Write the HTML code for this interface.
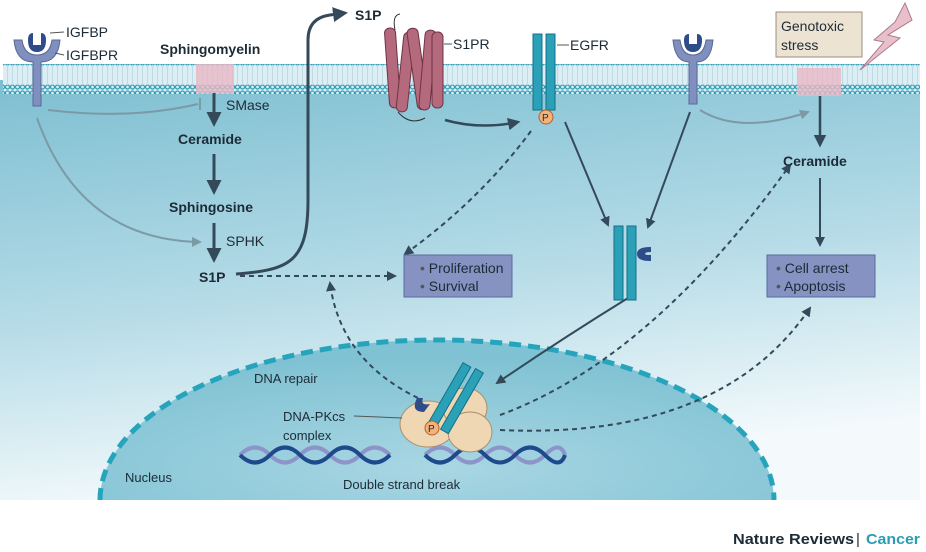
<!DOCTYPE html>
<html><head><style>body{margin:0;background:#fff}svg{display:block}text{font-family:"Liberation Sans",sans-serif;fill:#1d2b36}</style></head><body>
<svg width="926" height="552" viewBox="0 0 926 552" xmlns="http://www.w3.org/2000/svg">
<defs>
<linearGradient id="bg" x1="0" y1="0" x2="0.25" y2="1"><stop offset="0" stop-color="#7dbfd1"/><stop offset="0.55" stop-color="#b5dbe7"/><stop offset="1" stop-color="#f4fafc"/></linearGradient>
<radialGradient id="nuc" cx="0.5" cy="0.8" r="0.7"><stop offset="0" stop-color="#a9d6e3"/><stop offset="1" stop-color="#7fc2d3"/></radialGradient>
<pattern id="lip" width="5" height="30" patternUnits="userSpaceOnUse"><circle cx="2.5" cy="3" r="2" fill="none" stroke="#2f9fb6" stroke-width="1.2"/><circle cx="2.5" cy="27" r="2" fill="none" stroke="#2f9fb6" stroke-width="1.2"/><line x1="2.5" y1="5" x2="2.5" y2="25" stroke="#bcdbe5" stroke-width="1"/></pattern>
<marker id="ah" viewBox="0 0 10 10" refX="8" refY="5" markerWidth="5" markerHeight="5" orient="auto"><path d="M0,0L10,5L0,10z" fill="#34495a"/></marker>
<marker id="ahg" viewBox="0 0 10 10" refX="8" refY="5" markerWidth="5" markerHeight="5" orient="auto"><path d="M0,0L10,5L0,10z" fill="#7c9aa6"/></marker>
</defs>
<rect x="0" y="80" width="920" height="420" fill="url(#bg)"/>
<rect x="3" y="64" width="917" height="30" fill="#dcedf3"/>
<rect x="3" y="64" width="917" height="30" fill="url(#lip)"/>
<rect x="196" y="64" width="38" height="30" fill="#e9b8c4" opacity="0.8"/>
<rect x="797" y="68" width="44" height="28" fill="#e9b8c4" opacity="0.8"/>
<path d="M100,500 A337,160 0 0 1 774,500 Z" fill="url(#nuc)"/>
<path d="M100,500 A337,160 0 0 1 774,500" fill="none" stroke="#26a4bc" stroke-width="5" stroke-dasharray="12,7"/>
<path d="M14,40 L22,40 Q24,55 37,55 Q50,55 52,40 L60,40 Q58,62 41,62 L41,106 L33,106 L33,62 Q16,62 14,40z" fill="#8090be" stroke="#5a6898"/>
<path d="M28,40 Q28,33 33,33 L33,45 L41,45 L41,33 Q46,33 46,40 Q46,52 37,52 Q28,52 28,40z" fill="#2f4c8a"/>
<text x="66" y="37" font-size="14">IGFBP</text><text x="66" y="60" font-size="14">IGFBPR</text>
<line x1="50" y1="33" x2="64" y2="32" stroke="#555"/><line x1="55" y1="53" x2="64" y2="55" stroke="#555"/>
<path d="M673,40 L680,40 Q682,55 693,55 Q704,55 706,40 L713,40 Q711,62 697,62 L697,104 L689,104 L689,62 Q675,62 673,40z" fill="#8090be" stroke="#5a6898"/>
<path d="M684,40 Q684,34 689,34 L689,44 L697,44 L697,34 Q702,34 702,40 Q702,52 693,52 Q684,52 684,40z" fill="#2f4c8a"/>
<text x="160" y="54" font-size="14" font-weight="bold">Sphingomyelin</text>
<text x="178" y="144" font-size="14" font-weight="bold">Ceramide</text>
<text x="169" y="212" font-size="14" font-weight="bold">Sphingosine</text>
<text x="199" y="282" font-size="14" font-weight="bold">S1P</text>
<text x="226" y="110" font-size="14">SMase</text><text x="226" y="246" font-size="14">SPHK</text>
<g stroke="#34495a" stroke-width="3" marker-end="url(#ah)" fill="none">
<line x1="214" y1="93" x2="214" y2="124"/><line x1="214" y1="154" x2="214" y2="192"/><line x1="214" y1="223" x2="214" y2="260"/>
<path d="M236,274 C290,270 308,262 308,200 L308,40 Q308,18 330,15 L345,13"/>
<path d="M445,120 Q480,130 518,122" stroke-width="2.5"/>
<line x1="565" y1="122" x2="608" y2="225" stroke-width="2"/>
<line x1="690" y1="112" x2="648" y2="227" stroke-width="2"/>
<line x1="820" y1="96" x2="820" y2="145" stroke-width="2.5"/>
<line x1="820" y1="178" x2="820" y2="245" stroke-width="2"/>
<path d="M628,298 Q560,340 497,383" stroke-width="2"/>
</g>
<g stroke="#7c9aa6" stroke-width="2" fill="none" marker-end="url(#ahg)">
<path d="M48,110 Q130,120 198,104" marker-end="none"/>
<path d="M37,118 Q80,240 200,242"/>
<path d="M700,110 Q740,135 808,112"/>
</g>
<line x1="200" y1="98" x2="200" y2="110" stroke="#7c9aa6" stroke-width="2"/>
<g stroke="#34495a" stroke-width="2" stroke-dasharray="5,4" fill="none" marker-end="url(#ah)">
<line x1="240" y1="276" x2="395" y2="276"/>
<path d="M531,131 Q480,200 405,254"/>
<path d="M418,398 Q340,360 330,283"/>
<path d="M500,415 Q650,360 790,165"/>
<path d="M500,430 Q720,440 810,308"/>
</g>
<text x="355" y="20" font-size="14" font-weight="bold">S1P</text>
<g fill="#b46a7c" stroke="#6d3445" stroke-width="1">
<rect x="387" y="28" width="11" height="80" rx="5" transform="rotate(-4 392 68)"/>
<rect x="400" y="32" width="11" height="80" rx="5" transform="rotate(6 405 72)"/>
<rect x="412" y="28" width="11" height="82" rx="5" transform="rotate(-8 417 68)"/>
<rect x="422" y="30" width="11" height="80" rx="5" transform="rotate(5 427 70)"/>
<rect x="432" y="32" width="11" height="76" rx="5"/>
</g>
<path d="M395,30 Q392,15 400,14" fill="none" stroke="#333"/><path d="M398,112 Q410,126 425,118" fill="none" stroke="#333"/>
<line x1="444" y1="44" x2="452" y2="44" stroke="#555"/><text x="453" y="49" font-size="14">S1PR</text>
<rect x="533" y="34" width="9" height="76" fill="#2aa1b6" stroke="#14708a"/><rect x="546" y="34" width="9" height="76" fill="#2aa1b6" stroke="#14708a"/>
<circle cx="546" cy="117" r="7" fill="#f3b27a" stroke="#b06030"/><text x="542" y="121" font-size="10">P</text>
<line x1="557" y1="45" x2="569" y2="45" stroke="#555"/><text x="570" y="50" font-size="14">EGFR</text>
<rect x="614" y="226" width="9" height="74" fill="#2aa1b6" stroke="#14708a"/><rect x="627" y="226" width="9" height="74" fill="#2aa1b6" stroke="#14708a"/>
<path d="M650,248 Q638,248 638,254 Q638,260 650,260 L650,256 Q644,256 644,254 Q644,251 650,251z" fill="#2f4c8a" stroke="#2f4c8a" stroke-width="2"/>
<rect x="404" y="255" width="108" height="42" fill="#8592c2" stroke="#5d6aa0"/>
<text x="420" y="273" font-size="14"><tspan fill="#555">•</tspan> Proliferation</text><text x="420" y="291" font-size="14"><tspan fill="#555">•</tspan> Survival</text>
<rect x="767" y="255" width="108" height="42" fill="#8592c2" stroke="#5d6aa0"/>
<text x="776" y="273" font-size="14"><tspan fill="#555">•</tspan> Cell arrest</text><text x="776" y="291" font-size="14"><tspan fill="#555">•</tspan> Apoptosis</text>
<text x="783" y="166" font-size="14" font-weight="bold">Ceramide</text>
<rect x="776" y="12" width="86" height="45" fill="#ede3d2" stroke="#9a8f80"/>
<text x="781" y="31" font-size="14">Genotoxic</text><text x="781" y="50" font-size="14">stress</text>
<path d="M905,3 L912,20 L888,35 L900,38 L860,70 L884,42 L874,40 L895,22 z" fill="#e8c0cb" stroke="#b07a8a"/>
<g fill="none" stroke-width="4">
<path d="M240,455 Q255,440 270,455 T300,455 T330,455 T360,455 T390,455" stroke="#8d94c9"/>
<path d="M240,455 Q255,470 270,455 T300,455 T330,455 T360,455 T390,455" stroke="#1e4a8c"/>
<path d="M425,455 Q440,440 455,455 T485,455 T515,455 T545,455 T565,455" stroke="#8d94c9"/>
<path d="M425,455 Q440,470 455,455 T485,455 T515,455 T545,455 T565,455" stroke="#1e4a8c"/>
</g>
<ellipse cx="428" cy="424" rx="28" ry="23" fill="#eed7b2" stroke="#a59070"/>
<ellipse cx="465" cy="408" rx="22" ry="20" fill="#eed7b2" stroke="#a59070"/>
<ellipse cx="470" cy="432" rx="22" ry="20" fill="#eed7b2" stroke="#a59070"/>
<rect x="445" y="360" width="9" height="70" fill="#2aa1b6" stroke="#14708a" transform="rotate(30 449 395)"/>
<rect x="458" y="366" width="9" height="70" fill="#2aa1b6" stroke="#14708a" transform="rotate(30 462 400)"/>
<circle cx="432" cy="428" r="7" fill="#f3b27a" stroke="#b06030"/><text x="428" y="432" font-size="10">P</text>
<path d="M417,398 Q410,412 424,412 L430,404 Q420,406 423,398z" fill="#2f4c8a"/>
<line x1="354" y1="416" x2="402" y2="418" stroke="#555"/>
<text x="254" y="383" font-size="13">DNA repair</text>
<text x="283" y="421" font-size="13">DNA-PKcs</text><text x="283" y="440" font-size="13">complex</text>
<text x="125" y="482" font-size="13">Nucleus</text>
<text x="343" y="489" font-size="13">Double strand break</text>
<text x="733" y="544" font-size="15" font-weight="bold" textLength="121" lengthAdjust="spacingAndGlyphs">Nature Reviews</text>
<text x="856" y="544" font-size="15" fill="#555">|</text>
<text x="866" y="544" font-size="15" font-weight="bold" textLength="54" lengthAdjust="spacingAndGlyphs" style="fill:#2a9db3">Cancer</text>
</svg>
</body></html>
